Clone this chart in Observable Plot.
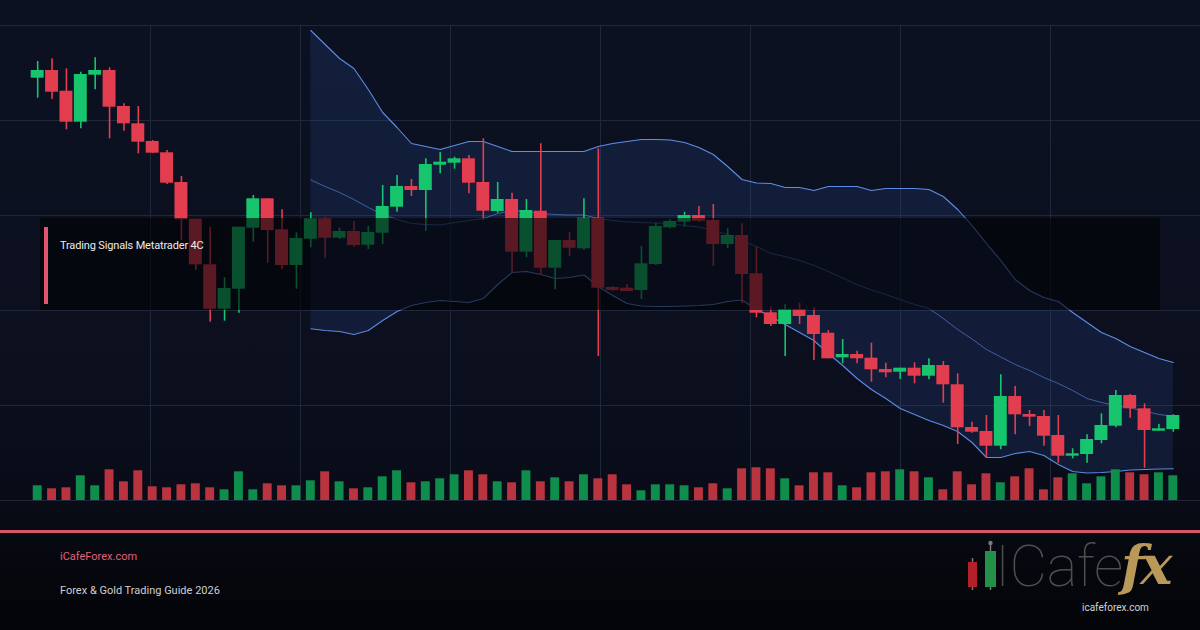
<!DOCTYPE html>
<html>
<head>
<meta charset="utf-8">
<script src="https://cdn.jsdelivr.net/npm/d3@7"></script>
<script src="https://cdn.jsdelivr.net/npm/@observablehq/plot@0.6"></script>
<style>
html,body{margin:0;padding:0;background:#05060a;}
#wrap{position:relative;width:1200px;height:630px;overflow:hidden;
  background:linear-gradient(180deg,#0c1121 0%,#0b0f1e 60%,#090c17 80%,#06070d 90%,#040509 100%);
  font-family:Roboto,"Liberation Sans",sans-serif;}
.layer{position:absolute;left:0;top:0;}
.layer svg{display:block;}
#box{position:absolute;left:40px;top:218px;width:1120px;height:92px;background:rgba(1,2,5,0.6);}
#accent{position:absolute;left:44px;top:227px;width:4px;height:77px;background:#e05670;}
.t{position:absolute;white-space:nowrap;line-height:1;}
#boxtitle{left:60px;top:240px;color:#ececec;font-size:11px;letter-spacing:-0.15px;}
#rule{position:absolute;left:0;top:530px;width:1200px;height:3px;background:#d6566b;}
#site{left:60px;top:551px;color:#e2607a;font-size:11px;}
#guide{left:60px;top:585px;color:#cfcfcf;font-size:11px;}
#cafe{left:995px;top:537px;font-size:58px;font-weight:100;color:#4e4e4e;font-family:Roboto,Lato,sans-serif;letter-spacing:-0.5px;}
#fx{left:1121px;top:538px;font-size:54px;font-weight:bold;font-style:italic;font-family:"DejaVu Serif","Liberation Serif",serif;color:#b8995a;letter-spacing:-4px;}
#url{left:1082px;top:603px;color:#d2d2d2;font-size:10px;}
#icon{position:absolute;left:960px;top:535px;}
</style>
</head>
<body>
<div id="wrap">
  <div id="grid" class="layer"></div>
  <div id="main" class="layer"></div>
  <div id="vol" class="layer"></div>
  <div id="box"></div>
  <div id="accent"></div>
  <div id="boxtitle" class="t">Trading Signals Metatrader 4C</div>
  <div id="rule"></div>
  <div id="site" class="t">iCafeForex.com</div>
  <div id="guide" class="t">Forex &amp; Gold Trading Guide 2026</div>
  <svg id="icon" width="45" height="60">
    <line x1="12.5" y1="23" x2="12.5" y2="55" stroke="#7a7a7a" stroke-width="1.5"/>
    <rect x="8" y="27" width="9" height="25" fill="#b3202a"/>
    <line x1="30.5" y1="8" x2="30.5" y2="55" stroke="#7a7a7a" stroke-width="1.5"/>
    <circle cx="30.5" cy="8" r="2.2" fill="#7a7a7a"/>
    <rect x="25" y="16" width="11" height="36" fill="#23914a"/>
  </svg>
  <div id="cafe" class="t">ICafe</div>
  <div id="fx" class="t">fx</div>
  <div id="url" class="t">icafeforex.com</div>
</div>
<script>
// ---- data (price in chart points, volume in lots) ----
const opens  = [422.3,430,409.3,378.3,425.3,430,394,376.7,359,347.7,318,281.3,235.7,191.3,211.3,272.3,301.7,270.7,235,261.3,281.7,262.3,269,255.3,267.3,293.3,314,310,335.3,337.3,341.7,318,289,301,248.3,289.3,232.3,260,251.7,282.3,213,212.3,210,236,272.7,278.3,285,280,256,265,226.7,187.7,176,191,185,167.3,142.7,146,142.3,131,128.3,132.3,124.3,135,115.7,73,69,54.3,104,86,84,65,44.3,46,60,74.3,105,91.7,69.3,71];
const highs  = [439,441.7,431.7,428.3,442.7,432.7,396.7,394,360,350,324,281.3,273.3,222.7,273.3,305,301.7,290.7,267.7,287.7,282.3,272.3,279,274,315,325,321,341.7,348,343.3,345,361.7,318,307.3,301,356.7,260,268,301.7,351.7,214,215.7,254,277.3,280.7,288.3,294,296,271.7,276.7,253.3,193.3,195.7,197.3,192.7,170,161,149.3,157.3,137.3,132.3,137.7,141.7,139,126.7,78.3,85,125.7,114,90,90,85,51.7,65.7,86.7,110,106,96.7,76,85.7];
const lows   = [402.3,401,370.7,371.7,410.7,361.7,369.3,346.7,347.3,316,260,230,178.3,179.3,187.3,258.3,237.3,230.7,211.3,252.7,242.3,261,253.3,251,256,288.3,304,269.3,326.7,331.3,306.7,280,287.3,227.3,242.7,225,210.7,244,250,144,209,209,201,235,271.7,273.3,278.3,234,251.7,196.7,182.7,174,144,176,140,141.7,136.7,136.7,118.3,122.7,121,116.7,120.7,97.3,56,67.3,42.3,50.7,65.7,74,54.3,37.3,41.7,37.3,56.7,72.7,82.3,32.3,69.3,68.3];
const closes = [430,408.3,378.3,426,430,393.3,376.7,358.3,347.3,317.3,280.7,235.7,191.3,212,273.3,301.7,270,235,262,281.7,262.3,269,255,268,294,314,310,336,338.3,341.7,317.3,289.3,301,248.3,290,232.3,260,252.3,282.3,212.3,210,209,236.7,274,279,285,279.3,256,265,226,187.3,176,191,184,166,141.7,146,141.7,130.7,127.7,132.3,124.3,135,115.7,72.7,68.3,54.3,104,85.7,83.3,64.3,44.3,46.7,61,75,105,91.7,70,71.7,85];
const volumes = [1470,1170,1270,2470,1470,3070,1870,2970,1370,1270,1570,1670,1270,1070,2870,1070,1670,1470,1470,1970,2870,1870,1170,1270,2370,2970,1770,1870,2170,2570,2970,2570,1870,1770,2970,1870,2270,1870,2570,2170,2570,1570,970,1570,1570,1470,1270,1670,1170,3170,3270,3170,2170,1470,2770,2770,1470,1270,2770,2870,3070,2870,2270,1070,2870,1570,2670,1770,2370,3170,1070,2270,2670,1670,2370,3070,2770,2570,2770,2470];
// Bollinger band readings, starting at candle 19
const bandStart = 19;
const bandUpper  = [470,456,442,432,411,388,373,357,354,351,355,359,359,354,349,349,349,349,349,349,354,357,359,361,361,360.5,358,353,346,334,321,317.5,317,313,313,310,314,314,314,310,312,312,312,311,304,291,275,257,240,221,210,203,199,188,178,168,162,154,148,142,138];
const bandMiddle = [320.5,314,308,301,293,286,281,277,276,275.5,278,280,282,287,290,289,287,286,285.5,285.5,282,280,278.5,278,277.5,277,275,273.5,270,266,260,254,247,244,240,235,229,222.5,216,210.5,206,201,196,192,182,171,161.5,151,143.5,136,130,123,117,110,102,98,95,92.5,89.5,86,84.3];
const bandLower  = [171.7,170,169,166,170,180,189,195,198,200,199,198,202,216,228,229,226,222,223,225.5,214,205,197,194.5,194,194,194.5,195,196,199,200.5,191,184,176,168,160,147,135,122,111,102,92,86,80,75,69,58,43,43,47,49,45,36,29,27.5,28,29,30.5,31,31.5,31.7];
// grid
const priceGrid = [0,95,190,285,380,475];
const timeGrid  = [1,2,3,4,5,6,7];
const timeCols  = 8;

// ---- styles ----
const UP = "#16c56d", DOWN = "#e23e50";
const VUP = "#0e8d4d", VDOWN = "#b9343f";
const BAND = "#5d8ce6";

const n = opens.length;
const candles = opens.map((o,i)=>({i, open:o, high:highs[i], low:lows[i], close:closes[i], vol:volumes[i]}));
const band = bandUpper.map((u,k)=>({i:k+bandStart, upper:u, middle:bandMiddle[k], lower:bandLower[k]}));
const up = d => d.close >= d.open;

const frame = {width:1200, height:510, marginTop:25, marginBottom:10,
  style:{background:"transparent", maxWidth:"none", overflow:"visible"}};

const grid = Plot.plot({...frame, marginLeft:0, marginRight:0,
  x:{domain:[0,timeCols], axis:null},
  y:{domain:[0,475], axis:null},
  marks:[
    Plot.ruleY(priceGrid, {stroke:"#1f2739", strokeWidth:1}),
    Plot.ruleX(timeGrid, {y1:0, y2:475, stroke:"#1f2739", strokeWidth:1})
  ]});
document.getElementById("grid").append(grid);

const main = Plot.plot({...frame, marginLeft:30, marginRight:20,
  x:{type:"linear", domain:[-0.5, n-0.5], axis:null},
  y:{domain:[0,475], axis:null},
  marks:[
    Plot.areaY(band, {x:"i", y1:"lower", y2:"upper", fill:"#2d4f96", fillOpacity:0.22}),
    Plot.line(band, {x:"i", y:"upper", stroke:BAND, strokeWidth:1.1}),
    Plot.line(band, {x:"i", y:"middle", stroke:BAND, strokeOpacity:0.6, strokeWidth:1}),
    Plot.line(band, {x:"i", y:"lower", stroke:BAND, strokeWidth:1.1}),
    Plot.ruleX(candles, {x:"i", y1:"low", y2:"high", stroke:d=>up(d)?UP:DOWN, strokeWidth:1.6}),
    Plot.rect(candles, {x1:d=>d.i-0.45, x2:d=>d.i+0.45, y1:"open", y2:"close", fill:d=>up(d)?UP:DOWN})
  ]});
document.getElementById("main").append(main);

const vol = Plot.plot({...frame, marginLeft:30, marginRight:20,
  x:{type:"linear", domain:[-0.5, n-0.5], axis:null},
  y:{domain:[0,47500], axis:null},
  marks:[
    Plot.rect(candles, {x1:d=>d.i-0.31, x2:d=>d.i+0.31, y1:0, y2:"vol", fill:d=>up(d)?VUP:VDOWN})
  ]});
document.getElementById("vol").append(vol);
</script>
</body>
</html>
